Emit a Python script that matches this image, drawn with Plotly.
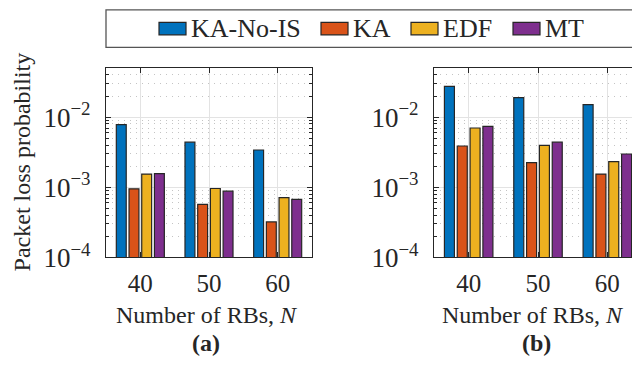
import plotly.graph_objects as go

# Number of RBs, N
rbs = [40, 50, 60]

series_names = ["KA-No-IS", "KA", "EDF", "MT"]
series_colors = ["#0072BD", "#D95319", "#EDB120", "#7E2F8E"]

# (a) packet loss probability
ka_no_is_a = [0.0078, 0.0044, 0.0034]
ka_a = [0.00095, 0.00057, 0.00032]
edf_a = [0.00154, 0.00096, 0.00071]
mt_a = [0.00157, 0.00088, 0.00067]

# (b) packet loss probability
ka_no_is_b = [0.0274, 0.0190, 0.0151]
ka_b = [0.00388, 0.00225, 0.00154]
edf_b = [0.0070, 0.00396, 0.00232]
mt_b = [0.00738, 0.0044, 0.00298]

y_ticks = [1e-4, 1e-3, 1e-2]
y_ticktext = ["10<sup>\u22124</sup>", "10<sup>\u22123</sup>", "10<sup>\u22122</sup>"]

W, H = 640, 367
FONT = "Liberation Serif"
TXT = "#262626"


def px(x):
    return x / W


def py(y):
    return 1 - y / H


panel_a = [ka_no_is_a, ka_a, edf_a, mt_a]
panel_b = [ka_no_is_b, ka_b, edf_b, mt_b]

fig = go.Figure()
for axis_id, panel in [("", panel_a), ("2", panel_b)]:
    for name, color, vals in zip(series_names, series_colors, panel):
        fig.add_trace(go.Bar(
            x=rbs, y=vals, name=name,
            marker=dict(color=color, line=dict(color="#262626", width=1.2)),
            xaxis="x" + axis_id, yaxis="y" + axis_id,
            showlegend=False,
        ))

# minor grid positions on the log axis
minor_vals = [m * 10 ** k for k in (-4, -3, -2) for m in range(2, 10) if m * 10 ** k <= 0.05]

xaxis_style = dict(
    range=[35, 65], tickvals=rbs, ticks="inside", ticklen=5, tickcolor="#262626",
    showline=True, linecolor="#262626", linewidth=1.2, mirror="ticks",
    showgrid=True, gridcolor="#e3e3e3", gridwidth=1, zeroline=False,
    ticklabelstandoff=4,
    tickfont=dict(family=FONT, size=25, color=TXT),
)
yaxis_style = dict(
    type="log", range=[-4, -1.30103], tickvals=y_ticks, ticktext=y_ticktext,
    ticks="inside", ticklen=5, tickcolor="#262626",
    showline=True, linecolor="#262626", linewidth=1.2, mirror="ticks",
    showgrid=True, gridcolor="#e3e3e3", gridwidth=1, zeroline=False,
    ticklabelstandoff=9,
    tickfont=dict(family=FONT, size=27, color=TXT),
    minor=dict(tickmode="array", tickvals=minor_vals, ticks="inside", ticklen=3,
               tickcolor="#262626", showgrid=True, gridcolor="#c4c4c4",
               griddash="1px,5px", gridwidth=1),
)

y_dom = [py(260), py(62.7)]
fig.update_layout(
    width=W, height=H,
    margin=dict(l=0, r=0, t=0, b=0),
    plot_bgcolor="white", paper_bgcolor="white",
    barmode="group", bargap=0.26, bargroupgap=0.22,
    xaxis=dict(domain=[px(98), px(304)], anchor="y", **xaxis_style),
    yaxis=dict(domain=y_dom, anchor="x", **yaxis_style),
    xaxis2=dict(domain=[px(426), px(634)], anchor="y2", **xaxis_style),
    yaxis2=dict(domain=y_dom, anchor="x2", **yaxis_style),
)

annots = [
    dict(text="Packet loss probability", x=px(14), y=py(161), textangle=-90),
    dict(text="Number of RBs, <i>N</i>", x=px(199), y=py(320)),
    dict(text="Number of RBs, <i>N</i>", x=px(525), y=py(320)),
    dict(text="<b>(a)</b>", x=px(198), y=py(349)),
    dict(text="<b>(b)</b>", x=px(528), y=py(349)),
]
for a in annots:
    fig.add_annotation(xref="paper", yref="paper", showarrow=False,
                       xanchor="center", yanchor="middle",
                       font=dict(family=FONT, size=24, color=TXT), **a)

# legend box drawn by hand to get the wide MATLAB-style swatches
fig.add_shape(type="rect", xref="paper", yref="paper",
              x0=px(98), x1=px(633), y0=py(41), y1=py(2),
              line=dict(color="#555555", width=1.3), fillcolor="white", layer="above")
swatch_x = [151, 313, 403, 505]
for name, color, sx in zip(series_names, series_colors, swatch_x):
    fig.add_shape(type="rect", xref="paper", yref="paper",
                  x0=px(sx), x1=px(sx + 27), y0=py(28), y1=py(15),
                  line=dict(color="#262626", width=1.2), fillcolor=color, layer="above")
    fig.add_annotation(xref="paper", yref="paper", showarrow=False,
                       x=px(sx + 30), y=py(21), xanchor="left", yanchor="middle",
                       text=name, font=dict(family=FONT, size=26, color=TXT))

fig.write_html("out.html")
